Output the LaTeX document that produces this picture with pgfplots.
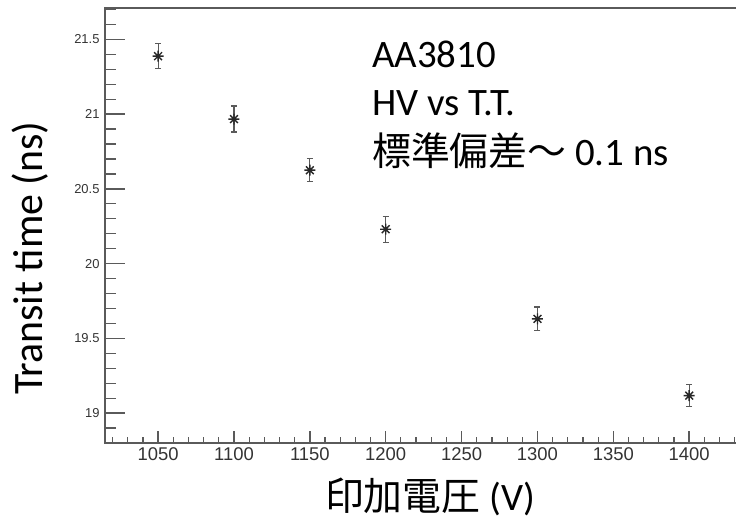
\documentclass[border=0pt]{standalone}
\usepackage{pgfplots}
\pgfplotsset{compat=1.18}
\usepackage{fontspec}
\setmainfont{Carlito}
\newfontfamily\arialf{Liberation Sans}
\newfontfamily\cjk{Noto Sans CJK JP}
\definecolor{axgray}{RGB}{90,90,90}
\definecolor{ptgray}{RGB}{40,40,40}

\pgfdeclareplotmark{rootstar}{%
  \pgfpathmoveto{\pgfqpoint{-\pgfplotmarksize}{0pt}}\pgfpathlineto{\pgfqpoint{\pgfplotmarksize}{0pt}}%
  \pgfpathmoveto{\pgfqpoint{0pt}{-\pgfplotmarksize}}\pgfpathlineto{\pgfqpoint{0pt}{\pgfplotmarksize}}%
  \pgfpathmoveto{\pgfqpoint{-.7071\pgfplotmarksize}{-.7071\pgfplotmarksize}}\pgfpathlineto{\pgfqpoint{.7071\pgfplotmarksize}{.7071\pgfplotmarksize}}%
  \pgfpathmoveto{\pgfqpoint{-.7071\pgfplotmarksize}{.7071\pgfplotmarksize}}\pgfpathlineto{\pgfqpoint{.7071\pgfplotmarksize}{-.7071\pgfplotmarksize}}%
  \pgfusepathqstroke}

\pgfplotstableread{
x y e
1050 21.388 0.085
1100 20.967 0.087
1150 20.625 0.077
1200 20.230 0.087
1300 19.630 0.080
1400 19.117 0.075
}\tt

\pgfplotsset{frameaxis/.style={
  at={(0,0)}, anchor=south west,
  scale only axis, width=637.3bp, height=435bp,
  xmin=1015, xmax=1435, ymin=18.80, ymax=21.71,
  axis line style={axgray, line width=1.8bp},
  tick align=inside, xtick pos=bottom, ytick pos=left,
  /pgf/number format/assume math mode=true,
  /pgf/number format/1000 sep={},
  clip=false,
}}

\begin{document}
\begin{tikzpicture}
% y ticks (long)
\begin{axis}[frameaxis,
  xtick=\empty, minor xtick={},
  ytick={19,19.5,20,20.5,21,21.5},
  minor ytick={18.9,19.1,19.2,19.3,19.4,19.6,19.7,19.8,19.9,20.1,20.2,20.3,20.4,20.6,20.7,20.8,20.9,21.1,21.2,21.3,21.4,21.6,21.7},
  major tick length=20bp, minor tick length=11bp,
  major tick style={axgray, line width=1.4bp},
  minor tick style={axgray, line width=1.2bp},
  yticklabel style={font=\arialf\fontsize{13}{15}\selectfont, color=black!80, xshift=-2bp},
  ylabel={Transit time (ns)},
  ylabel style={font=\fontsize{42}{46}\selectfont, at={(axis description cs:-0.117,0.425)}, anchor=center},
]
\end{axis}
% x ticks (short) and data
\begin{axis}[frameaxis,
  ytick=\empty, minor ytick={},
  xtick={1050,1100,...,1400},
  minor xtick={1020,1030,1040,1060,1070,1080,1090,1110,1120,1130,1140,1160,1170,1180,1190,1210,1220,1230,1240,1260,1270,1280,1290,1310,1320,1330,1340,1360,1370,1380,1390,1410,1420,1430},
  major tick length=12bp, minor tick length=6bp,
  major tick style={axgray, line width=1.4bp},
  minor tick style={axgray, line width=1.2bp},
  xticklabel style={font=\arialf\fontsize{18.5}{20}\selectfont, color=black!80, yshift=-1bp},
  xlabel={{\cjk 印加電圧} (V)},
  xlabel style={font=\fontsize{39}{42}\selectfont, at={(axis description cs:0.51,-0.124)}, anchor=center},
]
\addplot[only marks, mark=rootstar, mark size=5.5bp, ptgray, line width=1.4bp,
  error bars/.cd, y dir=both, y explicit,
  error bar style={axgray, line width=1.2bp},
  error mark options={axgray, line width=1.2bp, mark size=3bp, rotate=90}]
  table[x=x, y=y, y error=e] {\tt};
\node[anchor=base west, font=\fontsize{39}{44}\selectfont, inner sep=0pt] at (axis description cs:0.419,0.864) {AA3810};
\node[anchor=base west, font=\fontsize{39}{44}\selectfont, inner sep=0pt] at (axis description cs:0.419,0.754) {HV vs T.T.};
\node[anchor=base west, font=\fontsize{39}{44}\selectfont, inner sep=0pt] at (axis description cs:0.419,0.639) {{\cjk 標準偏差～} 0.1 ns};
\end{axis}
\pgfresetboundingbox
\useasboundingbox (-105bp,-79bp) rectangle (631bp,443bp);
\end{tikzpicture}
\end{document}
